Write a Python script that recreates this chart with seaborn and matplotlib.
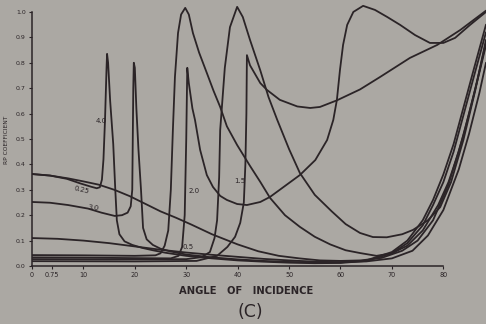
import matplotlib
matplotlib.use("Agg")
import matplotlib.pyplot as plt
import seaborn as sns
import pandas as pd

# Reflection coefficient against angle of incidence, one curve per layer parameter.
angle_025 = [0, 3.5, 7, 10, 13, 16, 19, 22, 25, 28, 31, 35, 40, 44, 48, 52, 56, 60, 64, 68, 72, 75, 78, 81, 84, 86, 88.3]
coef_025 = [0.362, 0.356, 0.345, 0.333, 0.320, 0.300, 0.275, 0.245, 0.215, 0.190, 0.163, 0.125, 0.085, 0.058, 0.040, 0.030, 0.022, 0.020, 0.022, 0.032, 0.060, 0.100, 0.180, 0.320, 0.520, 0.680, 0.880]

angle_05 = [0, 5, 10, 15, 20, 25, 30, 35, 40, 45, 50, 55, 60, 65, 70, 74, 77, 80, 83, 85, 87, 88.3]
coef_05 = [0.110, 0.107, 0.100, 0.090, 0.077, 0.064, 0.053, 0.044, 0.036, 0.028, 0.022, 0.017, 0.015, 0.018, 0.030, 0.060, 0.120, 0.220, 0.380, 0.520, 0.680, 0.800]

angle_40 = [0, 3.5, 6.8, 9.4, 11.5, 12.6, 13.2, 13.6, 13.9, 14.2, 14.5, 14.6, 14.8, 15.2, 15.8, 16.2, 16.5, 17, 18, 19.5, 21.5, 23.5, 26, 30, 35, 40, 45, 50, 55, 60, 65, 70, 73, 76, 78, 80, 82, 84, 86, 88.3]
coef_40 = [0.362, 0.356, 0.343, 0.325, 0.312, 0.306, 0.310, 0.340, 0.420, 0.575, 0.780, 0.835, 0.800, 0.650, 0.480, 0.300, 0.180, 0.125, 0.097, 0.083, 0.071, 0.062, 0.052, 0.040, 0.030, 0.022, 0.017, 0.013, 0.011, 0.012, 0.020, 0.050, 0.090, 0.160, 0.240, 0.330, 0.450, 0.600, 0.750, 0.920]

angle_30 = [0, 3.5, 7, 10.9, 13.5, 16.1, 17.5, 18.6, 19.2, 19.5, 19.6, 19.7, 19.8, 20.0, 20.3, 20.7, 21.2, 21.6, 22.3, 23.5, 25, 27, 30, 35, 40, 45, 50, 55, 60, 65, 70, 73, 76, 78, 80, 82, 84, 86, 88.3]
coef_30 = [0.252, 0.249, 0.240, 0.226, 0.210, 0.197, 0.200, 0.210, 0.235, 0.300, 0.500, 0.700, 0.800, 0.780, 0.620, 0.460, 0.300, 0.150, 0.105, 0.083, 0.068, 0.057, 0.045, 0.034, 0.026, 0.020, 0.016, 0.014, 0.014, 0.022, 0.055, 0.100, 0.180, 0.260, 0.360, 0.480, 0.630, 0.780, 0.950]

angle_20 = [0, 10, 20, 27, 28.5, 29.2, 29.7, 30.0, 30.2, 30.5, 31.2, 31.7, 32.7, 34.0, 35.2, 36.6, 37.9, 39.9, 41.8, 44.4, 46.3, 49.2, 52.1, 55.1, 57.4, 58.6, 59.3, 59.9, 60.5, 61.3, 62.5, 64.4, 66.7, 69.1, 71.6, 74.5, 77.4, 80.0, 82.3, 85.2, 88.3]
coef_20 = [0.034, 0.033, 0.031, 0.030, 0.040, 0.075, 0.200, 0.500, 0.780, 0.720, 0.620, 0.575, 0.457, 0.358, 0.311, 0.276, 0.260, 0.244, 0.240, 0.252, 0.272, 0.315, 0.358, 0.417, 0.496, 0.575, 0.654, 0.772, 0.870, 0.949, 1.000, 1.024, 1.008, 0.980, 0.949, 0.909, 0.878, 0.878, 0.898, 0.949, 1.000]

angle_15 = [0, 20, 32, 36, 38, 39.5, 40.5, 41.2, 41.5, 41.7, 41.8, 42.4, 44.4, 45.7, 48.2, 51.6, 54.1, 56, 59.3, 63.8, 67.7, 73.5, 78.8, 83.3, 88.3]
coef_15 = [0.019, 0.018, 0.020, 0.040, 0.075, 0.115, 0.170, 0.250, 0.400, 0.600, 0.830, 0.790, 0.720, 0.693, 0.654, 0.628, 0.622, 0.626, 0.652, 0.695, 0.744, 0.819, 0.870, 0.929, 1.005]

angle_a = [0, 10, 20, 24, 25, 25.8, 26.5, 27.0, 27.4, 27.8, 28.4, 29, 29.8, 30.5, 31.3, 32.5, 34.0, 35.3, 36.6, 37.9, 39.9, 42.4, 44.4, 46.3, 49.2, 52.1, 55, 58, 61, 63.8, 67, 70, 73, 76, 79, 81, 83, 85, 87, 88.3]
coef_a = [0.043, 0.042, 0.040, 0.042, 0.050, 0.080, 0.140, 0.300, 0.535, 0.744, 0.917, 0.990, 1.016, 0.990, 0.917, 0.840, 0.760, 0.690, 0.626, 0.550, 0.476, 0.394, 0.331, 0.268, 0.200, 0.154, 0.115, 0.085, 0.062, 0.051, 0.040, 0.050, 0.080, 0.140, 0.240, 0.330, 0.450, 0.600, 0.760, 0.870]

angle_b = [0, 15, 30, 33, 34.6, 35.5, 36.0, 36.4, 36.6, 37.5, 38.5, 39.9, 41.0, 42.4, 44.4, 46, 47.7, 50, 52.1, 55, 58.3, 61, 63.8, 66.3, 69, 72, 74.1, 77, 79.4, 81.5, 83.9, 86.2, 88.3]
coef_b = [0.027, 0.026, 0.027, 0.035, 0.055, 0.110, 0.180, 0.350, 0.535, 0.780, 0.940, 1.020, 0.980, 0.890, 0.770, 0.665, 0.575, 0.460, 0.366, 0.280, 0.215, 0.165, 0.130, 0.114, 0.113, 0.125, 0.142, 0.180, 0.232, 0.330, 0.496, 0.690, 0.890]

curves = {
    "0.25": (angle_025, coef_025),
    "0.5": (angle_05, coef_05),
    "4.0": (angle_40, coef_40),
    "3.0": (angle_30, coef_30),
    "2.0": (angle_20, coef_20),
    "1.5": (angle_15, coef_15),
    "a": (angle_a, coef_a),
    "b": (angle_b, coef_b),
}

x_ticks = [0, 3.9, 10, 20, 30, 40, 50, 60, 70, 80]
x_tick_labels = ["0", "0.75", "10", "20", "30", "40", "50", "60", "70", "80"]
y_ticks = [0.0, 0.1, 0.2, 0.3, 0.4, 0.5, 0.6, 0.7, 0.8, 0.9, 1.0]
y_tick_labels = ["0.0", "0.1", "0.2", "0.3", "0.4", "0.5", "0.6", "0.7", "0.8", "0.9", "1.0"]

curve_labels = [
    ("4.0", 13.4, 0.571, 0),
    ("0.25", 9.7, 0.299, -14),
    ("3.0", 11.9, 0.228, -8),
    ("2.0", 31.5, 0.295, 0),
    ("1.5", 40.5, 0.335, 0),
    ("0.5", 30.4, 0.075, 0),
]

paper = "#aba8a3"
ink = "#2b2427"

sns.set_style("ticks")
plt.rcParams["font.family"] = ["DejaVu Sans"]

fig = plt.figure(figsize=(4.86, 3.24), dpi=100, facecolor=paper)
ax = fig.add_axes([32 / 486, 58 / 324, 454 / 486, 266 / 324])
ax.set_facecolor(paper)

for name, (xs, ys) in curves.items():
    df = pd.DataFrame({"angle": xs, "coef": ys})
    sns.lineplot(data=df, x="angle", y="coef", ax=ax, color=ink, linewidth=1.3,
                 estimator=None, sort=False, legend=False)

ax.set_xlim(0, 88.3)
ax.set_ylim(0, 1.047)
ax.set_xticks(x_ticks)
ax.set_xticklabels(x_tick_labels, fontsize=4.7, color=ink)
ax.set_yticks(y_ticks)
ax.set_yticklabels(y_tick_labels, fontsize=4.5, color=ink)
ax.tick_params(axis="both", direction="out", length=2.5, width=0.8, pad=2, color=ink)
ax.set_xlabel("")
ax.set_ylabel("")

for side in ("top", "right"):
    ax.spines[side].set_visible(False)
ax.spines["left"].set_bounds(0, 1.0)
ax.spines["bottom"].set_bounds(0, 80)
for side in ("left", "bottom"):
    ax.spines[side].set_color(ink)
    ax.spines[side].set_linewidth(1.1)

for text, x, y, rot in curve_labels:
    ax.text(x, y, text, fontsize=5, color=ink, ha="center", va="center", rotation=rot)

fig.text(246 / 486, 1 - 291 / 324, "ANGLE   OF   INCIDENCE", fontsize=7.2, color=ink,
         ha="center", va="center", fontweight="bold")
fig.text(250 / 486, 1 - 312 / 324, "(C)", fontsize=12.5, color=ink, ha="center", va="center")
fig.text(7 / 486, 1 - 140 / 324, "RP COEFFICIENT", fontsize=4.2, color=ink,
         ha="center", va="center", rotation=90)

fig.savefig("out.png", dpi=100, facecolor=paper)
